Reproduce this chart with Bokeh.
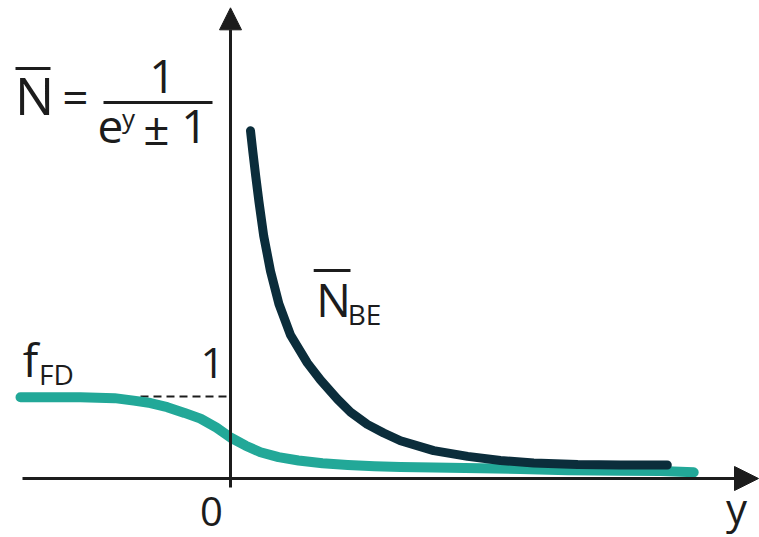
from bokeh.plotting import figure
from bokeh.models import Range1d, Arrow, NormalHead
from bokeh.core.properties import value
from bokeh.embed import file_html
from bokeh.resources import INLINE

# Fermi-Dirac occupation f_FD(y)
fd_x = [-5.25, -3.75, -2.9, -2.42, -2.0, -1.58, -1.15, -0.75, -0.35, 0.0, 0.38, 0.75,
        1.2, 1.7, 2.3, 2.93, 3.6, 4.25, 5.08, 6.25, 7.25, 8.43, 9.75, 10.75, 11.58]
fd_y = [0.99, 0.99, 0.98, 0.95, 0.92, 0.87, 0.80, 0.73, 0.62, 0.50, 0.40, 0.32,
        0.26, 0.22, 0.185, 0.165, 0.15, 0.14, 0.135, 0.125, 0.115, 0.10, 0.095, 0.09, 0.075]

# Bose-Einstein occupation N_BE(y)
be_x = [0.5, 0.56, 0.63, 0.71, 0.83, 1.0, 1.21, 1.5, 1.92, 2.25, 2.67,
        3.0, 3.42, 3.83, 4.25, 5.08, 5.93, 6.75, 7.58, 8.68, 9.75, 10.92]
be_y = [4.24, 3.98, 3.69, 3.38, 2.96, 2.53, 2.13, 1.75, 1.41, 1.20, 0.97,
        0.81, 0.66, 0.555, 0.46, 0.34, 0.27, 0.22, 0.19, 0.17, 0.165, 0.165]

FONT = value("Open Sans")
INK = "#1c1c1c"

p = figure(width=759, height=537, output_backend="svg", toolbar_location=None,
           x_range=Range1d(-5.75, 13.225), y_range=Range1d(-59 / 82, 478 / 82),
           min_border=0)
p.axis.visible = False
p.grid.visible = False
p.outline_line_color = None
p.background_fill_color = "white"

# coordinate axes with arrow heads
p.add_layout(Arrow(end=NormalHead(size=24, fill_color=INK, line_color=INK),
                   x_start=-5.2, y_start=0, x_end=13.2, y_end=0,
                   line_color=INK, line_width=3))
p.add_layout(Arrow(end=NormalHead(size=22, fill_color=INK, line_color=INK),
                   x_start=0, y_start=-0.11, x_end=0, y_end=5.74,
                   line_color=INK, line_width=3))

# dashed level N = 1
p.line([-2.25, 0], [1.0, 1.0], line_color=INK, line_width=2, line_dash="8 5")

# curves
p.line(fd_x, fd_y, line_color="#22a898", line_width=10, line_cap="round", line_join="round")
p.line(be_x, be_y, line_color="#0b2d3b", line_width=9, line_cap="round", line_join="round")


def label(x, y, s, size):
    p.text(x=[x], y=[y], text=[s], text_font=FONT, text_font_size=f"{size}px",
           text_color=INK, text_align="center", text_baseline="middle")


# tick labels
label(-0.45, 1.41, "1", 42)
label(-0.475, -0.40, "0", 40)
label(12.65, -0.35, "y", 42)

# f_FD
label(-5.0, 1.46, "f", 46)
label(-4.35, 1.28, "FD", 28)

# N_BE with overline
label(2.575, 2.19, "N", 46)
label(3.35, 2.01, "BE", 28)
p.line([2.08, 3.0], [2.537, 2.537], line_color=INK, line_width=3)

# formula  N = 1 / (e^y ± 1)
label(-4.9, 4.68, "N", 52)
p.line([-5.375, -4.5], [5.0, 5.0], line_color=INK, line_width=3)
label(-3.875, 4.66, "=", 46)
p.line([-3.175, -0.45], [4.585, 4.585], line_color=INK, line_width=3)
label(-1.7, 4.90, "1", 46)
label(-3.0, 4.29, "e", 46)
label(-2.55, 4.40, "y", 26)
label(-1.85, 4.29, "±", 46)
label(-0.9, 4.29, "1", 46)

open("out.html", "w").write(file_html(p, INLINE))
